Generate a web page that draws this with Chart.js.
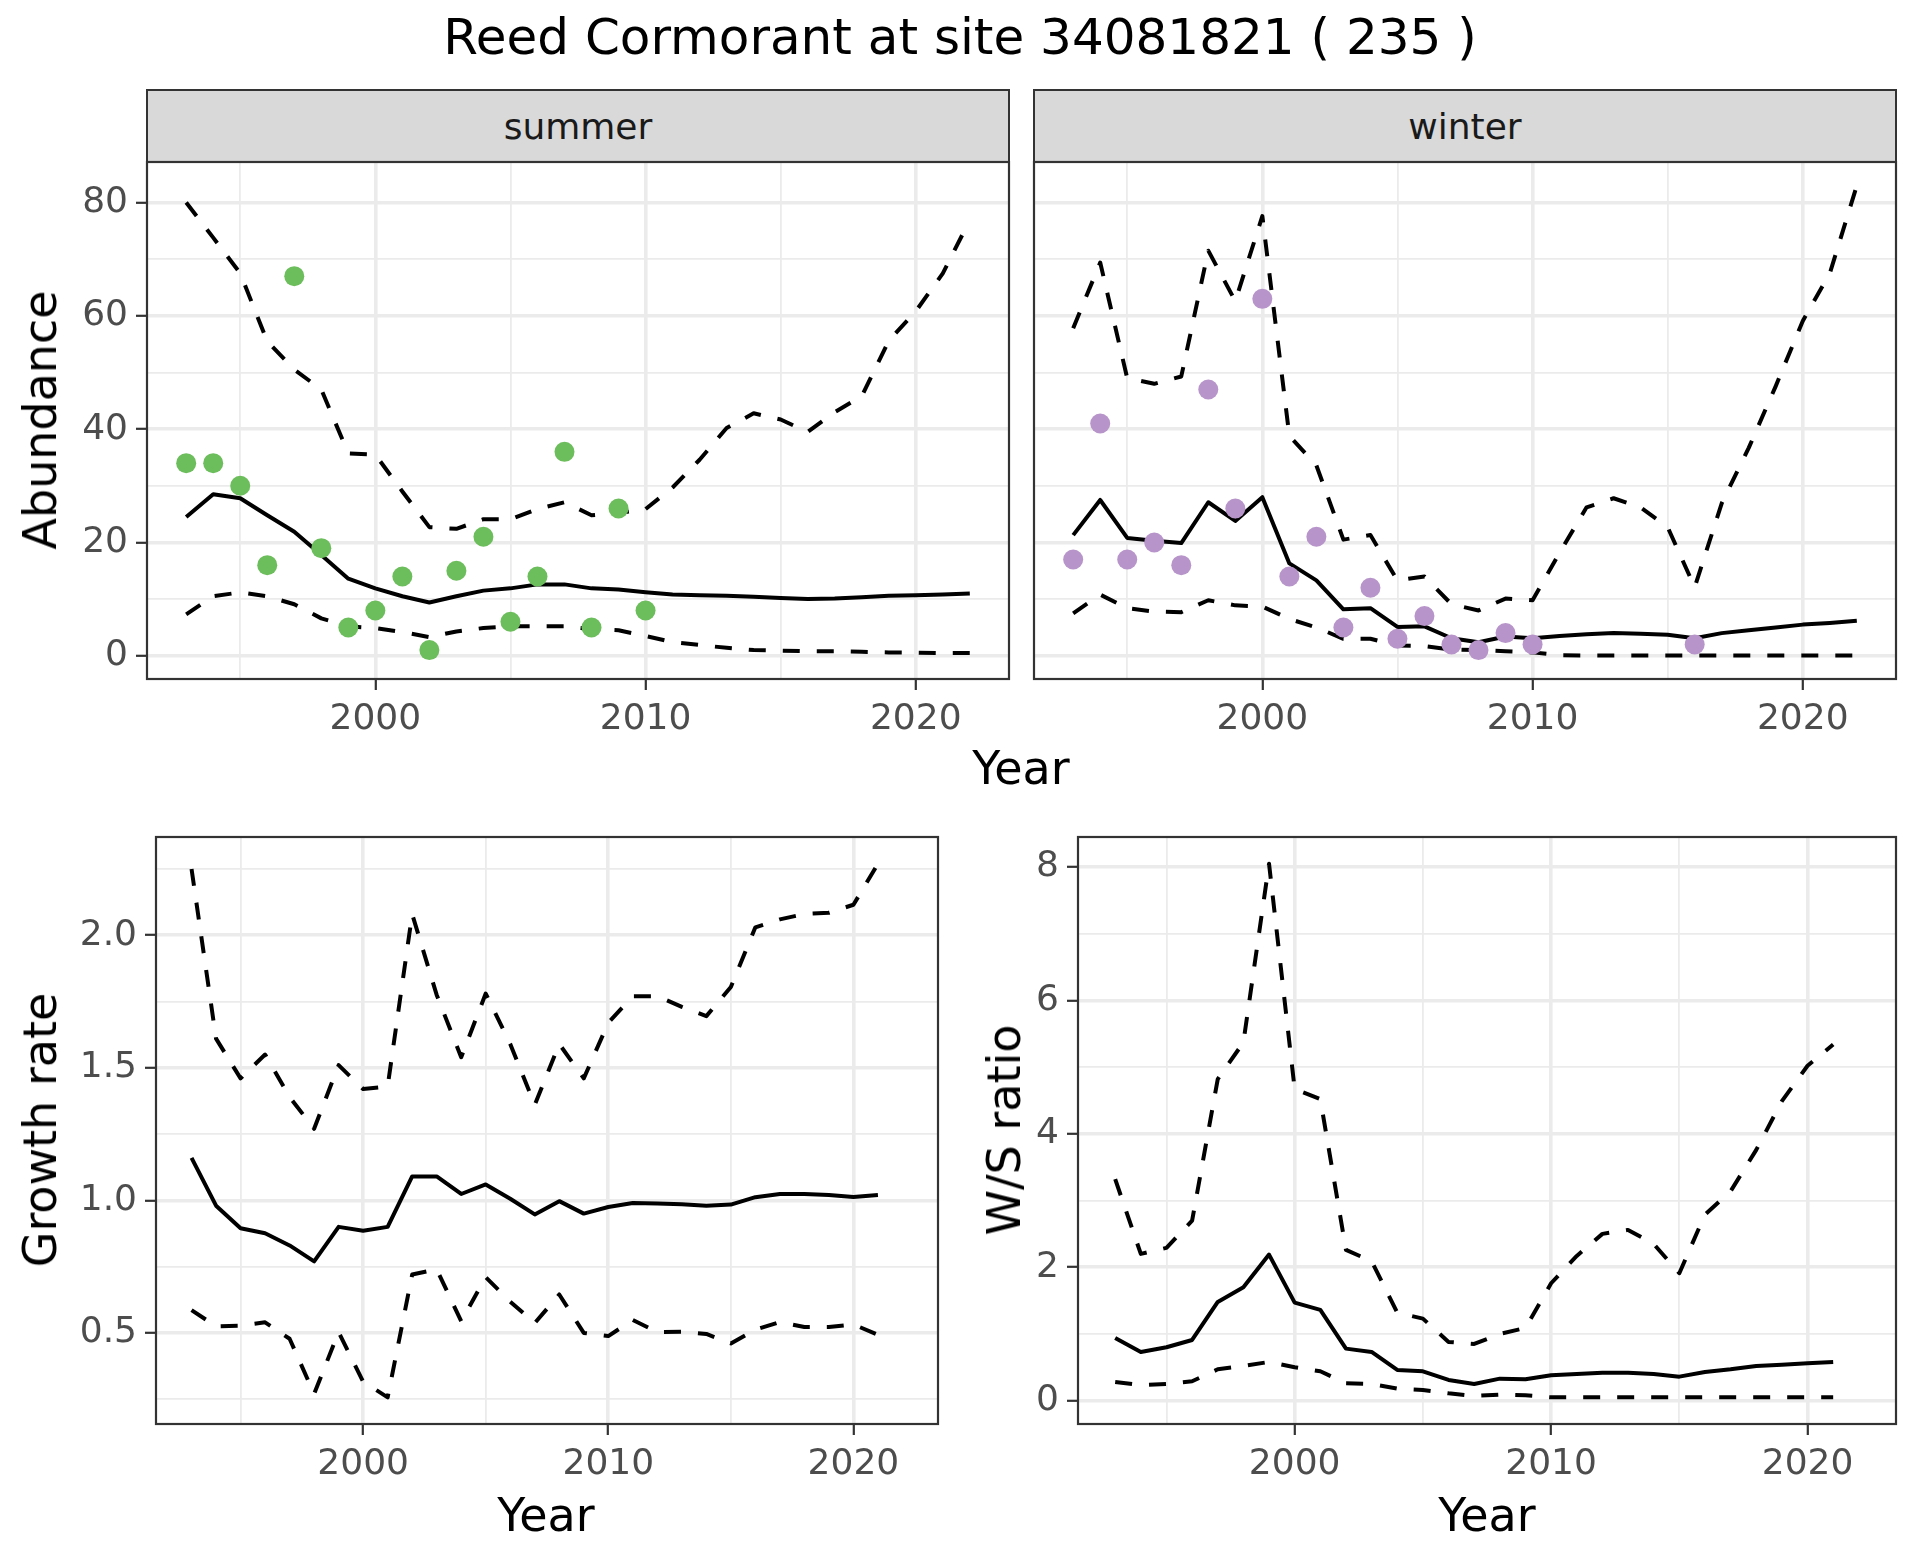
<!DOCTYPE html>
<html>
<head>
<meta charset="utf-8">
<script src="https://cdn.jsdelivr.net/npm/chart.js@4.4.1/dist/chart.umd.min.js"></script>
<style>
body { margin: 0; background: #ffffff; font-family: 'DejaVu Sans', sans-serif; }
#pagina { position: relative; width: 1920px; height: 1560px; overflow: hidden; background: #ffffff; }
canvas { position: absolute; }
.txt { position: absolute; white-space: nowrap; line-height: 1; transform: translate(-50%, -50%); color: #000000; }
.strip { position: absolute; background: #d9d9d9; border: 2px solid #333333; box-sizing: border-box;
         display: flex; align-items: center; justify-content: center; font-size: 36px; color: #1a1a1a; }
</style>
</head>
<body>
<div id="pagina">
  <div class="txt" style="left:960px; top:37px; font-size:50px;">Reed Cormorant at site 34081821 ( 235 )</div>

  <div class="strip" style="left:146px; top:89px; width:864px; height:74px;">summer</div>
  <div class="strip" style="left:1033px; top:89px; width:864px; height:74px;">winter</div>

  <canvas id="cVerao"></canvas>
  <canvas id="cInverno"></canvas>
  <canvas id="cTaxa"></canvas>
  <canvas id="cRazao"></canvas>

  <div class="txt" style="left:40px; top:420px; font-size:46px; transform: translate(-50%, -50%) rotate(-90deg);">Abundance</div>
  <div class="txt" style="left:1021px; top:768px; font-size:46px;">Year</div>
  <div class="txt" style="left:40px; top:1130px; font-size:46px; transform: translate(-50%, -50%) rotate(-90deg);">Growth rate</div>
  <div class="txt" style="left:1004px; top:1130px; font-size:46px; transform: translate(-50%, -50%) rotate(-90deg);">W/S ratio</div>
  <div class="txt" style="left:546px; top:1515px; font-size:46px;">Year</div>
  <div class="txt" style="left:1487px; top:1515px; font-size:46px;">Year</div>
</div>

<script>
// anos
var anos = [1993,1994,1995,1996,1997,1998,1999,2000,2001,2002,2003,2004,2005,2006,2007,2008,2009,2010,
            2011,2012,2013,2014,2015,2016,2017,2018,2019,2020,2021,2022];
var anosTaxa = anos.slice(0, 29);

// contagens observadas
var anosVerao = [1993,1994,1995,1996,1997,1998,1999,2000,2001,2002,2003,2004,2005,2006,2007,2008,2009,2010];
var contagemVerao = [34,34,30,16,67,19,5,8,14,1,15,21,6,14,36,5,26,8];
var anosInverno = [1993,1994,1995,1996,1997,1998,1999,2000,2001,2002,2003,2004,2005,2006,2007,2008,2009,2010,2016];
var contagemInverno = [17,41,17,20,16,47,26,63,14,21,5,12,3,7,2,1,4,2,2];

// modelo verao
var mediaVerao = [24.5,28.5,27.8,24.8,21.9,17.8,13.6,11.9,10.5,9.4,10.5,11.5,11.9,12.6,12.6,11.9,11.7,11.2,
                  10.8,10.7,10.6,10.4,10.2,10.0,10.1,10.35,10.6,10.7,10.8,11.0];
var supVerao = [80,73.8,67.5,55.5,50.5,47,35.7,35.5,29,22.7,22.4,24.1,24.1,25.9,27.1,24.8,25.2,25.9,
                29.7,34.6,40.2,42.8,41.7,39.5,43,45.8,55.6,60.8,67.5,76.9];
var infVerao = [7.3,10.5,11.2,10.5,9.1,6.6,5.2,4.9,4.2,3.3,4.3,4.9,5.2,5.2,5.2,4.7,4.5,3.5,
                2.4,1.9,1.4,1.0,0.9,0.8,0.8,0.7,0.6,0.55,0.5,0.5];

// modelo inverno
var mediaInverno = [21.3,27.5,20.8,20.3,19.9,27.1,23.8,28,16.3,13.3,8.2,8.4,5.1,5.2,3.1,2.4,3.4,3.1,
                    3.5,3.8,4.0,3.9,3.7,3.1,4.0,4.5,5.0,5.5,5.8,6.2];
var supInverno = [57.8,69.4,49,48,49.3,71.5,62.6,77.6,38.8,33.6,20.5,21.3,13.3,14,9.1,8,10.1,9.8,
                  18.2,26.2,27.8,26.2,22.7,12.1,26.9,36.7,47.6,59.1,67.5,83];
var infInverno = [7.5,10.8,8.4,7.8,7.7,9.8,8.9,8.7,6.5,5.0,3.0,3.0,1.8,1.7,1.1,1.0,0.8,0.6,
                  0.1,0.05,0.05,0.05,0.05,0.05,0.05,0.05,0.05,0.05,0.05,0.05];

// taxa de crescimento
var mediaTaxa = [1.16,0.98,0.895,0.876,0.83,0.77,0.90,0.885,0.90,1.09,1.09,1.024,1.06,1.006,0.947,0.997,0.95,0.975,
                 0.99,0.988,0.985,0.98,0.984,1.012,1.024,1.024,1.02,1.013,1.02];
var supTaxa = [2.25,1.61,1.46,1.55,1.39,1.27,1.51,1.42,1.43,2.08,1.775,1.54,1.78,1.59,1.36,1.59,1.46,1.67,
               1.77,1.77,1.73,1.695,1.805,2.03,2.06,2.08,2.085,2.115,2.27];
var infTaxa = [0.586,0.525,0.527,0.54,0.478,0.27,0.503,0.316,0.257,0.72,0.74,0.544,0.71,0.618,0.537,0.645,0.5,0.488,
               0.549,0.503,0.504,0.496,0.46,0.512,0.541,0.522,0.522,0.532,0.493];

// razao inverno/verao
var mediaRazao = [0.94,0.73,0.80,0.91,1.48,1.70,2.19,1.47,1.36,0.78,0.73,0.46,0.44,0.31,0.25,0.33,0.32,0.38,
                  0.40,0.42,0.42,0.40,0.36,0.43,0.47,0.52,0.54,0.56,0.58];
var supRazao = [3.32,2.20,2.29,2.70,4.82,5.37,8.05,4.67,4.52,2.26,2.09,1.32,1.23,0.88,0.85,1.0,1.09,1.76,
                2.17,2.50,2.56,2.35,1.91,2.79,3.14,3.76,4.49,5.02,5.34];
var infRazao = [0.28,0.235,0.25,0.29,0.47,0.52,0.58,0.50,0.44,0.26,0.25,0.18,0.16,0.11,0.07,0.09,0.08,0.05,
                0.05,0.05,0.05,0.05,0.05,0.05,0.05,0.05,0.05,0.05,0.05];

// ticks
var ticksAnos = [1995,2000,2005,2010,2015,2020];
var rotulosAnos = ['2000','2010','2020'];
var ticksAbund = [0,10,20,30,40,50,60,70,80];
var rotulosAbund = ['0','20','40','60','80'];
var ticksTaxa = [0.25,0.5,0.75,1.0,1.25,1.5,1.75,2.0,2.25];
var rotulosTaxa = ['0.5','1.0','1.5','2.0'];
var ticksRazao = [0,1,2,3,4,5,6,7,8];
var rotulosRazao = ['0','2','4','6','8'];

Chart.defaults.font.family = "'DejaVu Sans', sans-serif";

function faixa(listas) {
    var todos = [].concat.apply([], listas);
    var min = Math.min.apply(null, todos), max = Math.max.apply(null, todos);
    var d = (max - min) * 0.05;
    return { min: min - d, max: max + d };
}

function pontos(xs, ys) {
    return xs.map(function (x, i) { return { x: x, y: ys[i] }; });
}

function rotulo(valor, rotulos) {
    for (var i = 0; i < rotulos.length; i++) {
        if (Math.abs(parseFloat(rotulos[i]) - valor) < 1e-6) return rotulos[i];
    }
    return '';
}

// borda do painel por cima dos dados, como no ggplot
var moldura = {
    id: 'moldura',
    afterDraw: function (chart) {
        var a = chart.chartArea, c = chart.ctx;
        c.save();
        c.strokeStyle = '#333333';
        c.lineWidth = 2.2;
        c.strokeRect(a.left, a.top, a.right - a.left, a.bottom - a.top);
        c.restore();
    }
};

var faixaAnos = faixa([anos]);
var faixaAbund = faixa([contagemVerao, contagemInverno, supVerao, infVerao, supInverno, infInverno, mediaVerao, mediaInverno]);
var faixaTaxa = faixa([supTaxa, infTaxa, mediaTaxa]);
var faixaRazao = faixa([supRazao, infRazao, mediaRazao]);

var ESQ = 120, BAIXO = 80, FOLGA = 4;

function linha(xs, ys, tracejada) {
    return {
        type: 'line',
        data: pontos(xs, ys),
        borderColor: '#000000',
        borderWidth: 4,
        borderDash: tracejada ? [17, 17] : [],
        borderCapStyle: 'butt',
        borderJoinStyle: 'round',
        pointRadius: 0,
        tension: 0,
        fill: false
    };
}

function pontosObs(xs, ys, cor) {
    return {
        type: 'scatter',
        data: pontos(xs, ys),
        showLine: false,
        pointRadius: 10,
        pointBackgroundColor: cor,
        pointBorderWidth: 0,
        borderColor: cor
    };
}

function painel(id, area, yTicks, yRotulos, yFaixa, conjuntos, mostrarY) {
    var canvas = document.getElementById(id);
    canvas.width = Math.round(area.w + ESQ + FOLGA);
    canvas.height = Math.round(area.h + BAIXO + FOLGA);
    canvas.style.left = (area.l - ESQ) + 'px';
    canvas.style.top = (area.t - FOLGA) + 'px';

    return new Chart(canvas, {
        type: 'line',
        data: { datasets: conjuntos },
        options: {
            responsive: false,
            animation: false,
            devicePixelRatio: 1,
            layout: { autoPadding: false, padding: { top: FOLGA, right: FOLGA, left: 0, bottom: 0 } },
            plugins: { legend: { display: false }, tooltip: { enabled: false } },
            scales: {
                x: {
                    type: 'linear',
                    min: faixaAnos.min,
                    max: faixaAnos.max,
                    afterBuildTicks: function (s) { s.ticks = ticksAnos.map(function (v) { return { value: v }; }); },
                    afterFit: function (s) { s.height = BAIXO; s.paddingLeft = 0; s.paddingRight = 0; },
                    border: { display: false },
                    grid: {
                        color: '#ebebeb',
                        lineWidth: function (ctx) { return rotulo(ctx.tick.value, rotulosAnos) ? 3.6 : 1.8; },
                        tickLength: 11,
                        tickWidth: 2.2,
                        tickColor: function (ctx) { return rotulo(ctx.tick.value, rotulosAnos) ? '#333333' : 'rgba(0,0,0,0)'; }
                    },
                    ticks: {
                        autoSkip: false,
                        maxRotation: 0,
                        padding: 8,
                        color: '#4d4d4d',
                        font: { size: 36 },
                        callback: function (v) { return rotulo(v, rotulosAnos); }
                    }
                },
                y: {
                    type: 'linear',
                    min: yFaixa.min,
                    max: yFaixa.max,
                    afterBuildTicks: function (s) { s.ticks = yTicks.map(function (v) { return { value: v }; }); },
                    afterFit: function (s) { s.width = ESQ; s.paddingTop = 0; s.paddingBottom = 0; },
                    border: { display: false },
                    grid: {
                        color: '#ebebeb',
                        lineWidth: function (ctx) { return rotulo(ctx.tick.value, yRotulos) ? 3.6 : 1.8; },
                        drawTicks: mostrarY,
                        tickLength: 11,
                        tickWidth: 2.2,
                        tickColor: function (ctx) { return rotulo(ctx.tick.value, yRotulos) ? '#333333' : 'rgba(0,0,0,0)'; }
                    },
                    ticks: {
                        display: mostrarY,
                        autoSkip: false,
                        padding: 8,
                        color: '#4d4d4d',
                        font: { size: 36 },
                        callback: function (v) { return rotulo(v, yRotulos); }
                    }
                }
            }
        },
        plugins: [moldura]
    });
}

painel('cVerao', { l: 147, t: 162, w: 862, h: 517 }, ticksAbund, rotulosAbund, faixaAbund, [
    pontosObs(anosVerao, contagemVerao, '#6cbd5b'),
    linha(anos, mediaVerao, false),
    linha(anos, supVerao, true),
    linha(anos, infVerao, true)
], true);

painel('cInverno', { l: 1034, t: 162, w: 862, h: 517 }, ticksAbund, rotulosAbund, faixaAbund, [
    pontosObs(anosInverno, contagemInverno, '#b794c9'),
    linha(anos, mediaInverno, false),
    linha(anos, supInverno, true),
    linha(anos, infInverno, true)
], false);

painel('cTaxa', { l: 155.5, t: 837, w: 781.5, h: 587 }, ticksTaxa, rotulosTaxa, faixaTaxa, [
    linha(anosTaxa, mediaTaxa, false),
    linha(anosTaxa, supTaxa, true),
    linha(anosTaxa, infTaxa, true)
], true);

painel('cRazao', { l: 1078, t: 837, w: 818, h: 587 }, ticksRazao, rotulosRazao, faixaRazao, [
    linha(anosTaxa, mediaRazao, false),
    linha(anosTaxa, supRazao, true),
    linha(anosTaxa, infRazao, true)
], true);
</script>
</body>
</html>
